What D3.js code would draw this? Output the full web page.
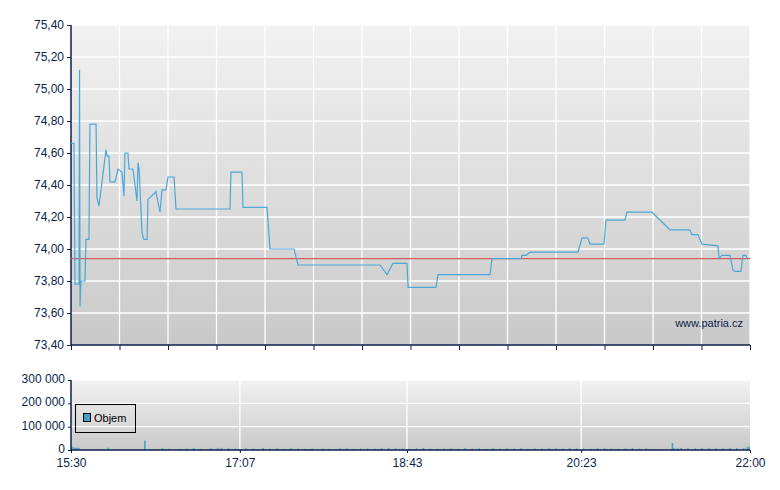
<!DOCTYPE html><html><head><meta charset="utf-8"><script src="https://cdn.jsdelivr.net/npm/d3@7"></script>
<style>body{margin:0;background:#fff}</style></head><body><svg id="c" width="780" height="490"></svg><script>
const priceT=[0,1.7,2.3,4.6,4.9,5.2,5.7,8,8.6,10.3,10.9,14.4,14.9,16.1,20.1,20.7,21.8,22.4,25.3,27,29.3,30.4,31,32.7,33.3,35.6,37.9,38.5,39.1,40.8,41.9,43.7,44.2,48.2,48.8,51.1,52.3,54.6,55.7,59.2,60.3,91.3,91.9,98.2,98.8,112.6,114.3,128.1,130.4,177.5,181.5,184.9,193,193.6,209.6,210.8,240.7,241.8,258.5,259,261.3,263.6,291.2,293.5,296.9,298.1,306.1,307.3,318.2,319.3,333.7,341.2,344,355.5,356.6,360.1,362.4,371.6,372.2,373.9,378.5,380.2,381.4,384.8,385.9,387.7,388.3];
const priceV=[74.66,74.66,73.78,73.78,75.12,73.64,73.80,73.80,74.06,74.06,74.78,74.78,74.32,74.27,74.62,74.58,74.58,74.42,74.42,74.50,74.48,74.33,74.60,74.60,74.50,74.50,74.30,74.54,74.50,74.10,74.06,74.06,74.31,74.35,74.36,74.23,74.37,74.37,74.45,74.45,74.25,74.25,74.48,74.48,74.26,74.26,74.00,74.00,73.90,73.90,73.84,73.91,73.91,73.76,73.76,73.84,73.84,73.94,73.94,73.96,73.96,73.98,73.98,74.07,74.07,74.03,74.03,74.18,74.18,74.23,74.23,74.15,74.12,74.12,74.09,74.09,74.03,74.02,73.94,73.96,73.96,73.87,73.86,73.86,73.96,73.96,73.94];
const refPrice=73.94;
const volT=[0,1,2,3,4,21,42,46,52,56,62,66,70,74,80,84,86,90,94,96,100,104,110,114,118,122,126,130,134,138,144,148,154,158,162,166,170,174,178,182,186,190,194,198,202,206,210,214,218,222,226,230,234,238,242,246,250,254,258,262,266,270,274,278,282,286,290,294,298,302,306,310,314,318,322,326,330,345,346,348,350,354,358,362,366,370,374,378,382,386,388,389];
const volV=[15000,12000,10000,10000,10000,10000,40000,3000,8000,6000,5000,6000,8000,5000,8000,9000,9000,8000,6000,5000,7000,6000,8000,6000,7000,5000,8000,6000,5000,7000,6000,5000,7000,8000,5000,6000,7000,6000,8000,9000,7000,6000,5000,7000,8000,6000,5000,6000,7000,5000,8000,6000,7000,5000,8000,6000,7000,6000,8000,5000,7000,6000,8000,7000,6000,8000,7000,6000,5000,8000,7000,6000,5000,7000,8000,6000,7000,30000,8000,7000,9000,8000,7000,8000,9000,8000,7000,9000,8000,9000,12000,15000];
const priceTicks=d3.range(73.4,75.401,0.2);
const volTicks=[0,100000,200000,300000];
const timeLabels=["15:30","17:07","18:43","20:23","22:00"];

const svg=d3.select("#c");
const L=71,R=750,T1=25,B1=345,T2=380,B2=450;
const x=d3.scaleLinear().domain([0,390]).range([L,R]);
const y=d3.scaleLinear().domain([73.4,75.4]).range([B1,T1]);
const yv=d3.scaleLinear().domain([0,300000]).range([B2,T2]);
const defs=svg.append("defs");
const g=defs.append("linearGradient").attr("id","bg").attr("x1",0).attr("y1",0).attr("x2",0).attr("y2",1);
g.append("stop").attr("offset",0).attr("stop-color","#f2f2f2");
g.append("stop").attr("offset",1).attr("stop-color","#c9c9c9");
svg.append("rect").attr("x",L).attr("y",T1).attr("width",R-L).attr("height",B1-T1).attr("fill","url(#bg)");
svg.append("rect").attr("x",L).attr("y",T2).attr("width",R-L).attr("height",B2-T2).attr("fill","url(#bg)");
const ink="#0d1f4d",font="Liberation Sans, Arial, sans-serif";
const xg=d3.range(0,15).map(i=>i*390/14);
svg.append("g").selectAll("line").data(xg.slice(1)).join("line").attr("x1",d=>x(d)).attr("x2",d=>x(d)).attr("y1",T1).attr("y2",B1).attr("stroke","#fff").attr("stroke-width",1.3);
svg.append("g").selectAll("line").data(priceTicks.slice(1)).join("line").attr("x1",L).attr("x2",R).attr("y1",d=>y(d)).attr("y2",d=>y(d)).attr("stroke","#fff").attr("stroke-width",1.3);
const ya=svg.append("g").attr("transform",`translate(${L},0)`).call(d3.axisLeft(y).tickValues(priceTicks).tickSize(4).tickFormat(d=>d3.format(".2f")(d).replace(".",",")));
const xa=svg.append("g").attr("transform",`translate(0,${B1})`).call(d3.axisBottom(x).tickValues(xg).tickSize(5).tickFormat(""));
svg.append("line").attr("x1",x(0)).attr("x2",x(390)).attr("y1",y(refPrice)).attr("y2",y(refPrice)).attr("stroke","#d65a5a").attr("stroke-width",1.2);
svg.append("path").datum(priceT.map((t,i)=>[t,priceV[i]])).attr("d",d3.line().x(d=>x(d[0])).y(d=>y(d[1]))).attr("fill","none").attr("stroke","#4aa8d6").attr("stroke-width",1.2);
svg.append("text").attr("x",743).attr("y",327).attr("text-anchor","end").attr("font-family",font).attr("font-size",11).attr("fill",ink).text("www.patria.cz");
const vx=[0,97,193,293,390];
svg.append("g").selectAll("line").data(vx.slice(1,4)).join("line").attr("x1",d=>x(d)).attr("x2",d=>x(d)).attr("y1",T2).attr("y2",B2).attr("stroke","#fff").attr("stroke-width",1.3);
svg.append("g").selectAll("line").data(volTicks.slice(1)).join("line").attr("x1",L).attr("x2",R).attr("y1",d=>yv(d)).attr("y2",d=>yv(d)).attr("stroke","#fff").attr("stroke-width",1.3);
svg.append("g").selectAll("rect").data(volT.map((t,i)=>[t,volV[i]])).join("rect").attr("x",d=>x(d[0])).attr("width",1.5).attr("y",d=>yv(d[1])).attr("height",d=>B2-yv(d[1])).attr("fill","#3fa0cc");
const yva=svg.append("g").attr("transform",`translate(${L},0)`).call(d3.axisLeft(yv).tickValues(volTicks).tickSize(3).tickFormat(d=>d3.format(",")(d).replace(/,/g," ")));
const xva=svg.append("g").attr("transform",`translate(0,${B2})`).call(d3.axisBottom(x).tickValues(vx).tickSize(3).tickPadding(5).tickFormat((d,i)=>timeLabels[i]));
[ya,xa,yva,xva].forEach(a=>{a.selectAll("path,line").attr("stroke",ink);a.select(".domain").attr("stroke-width",1.5);a.selectAll("text").attr("font-family",font).attr("font-size",12).attr("fill",ink);});
yva.selectAll("text").attr("dy","0.2em");
ya.select(".domain").attr("d",`M0,${T1}V${B1}`);yva.select(".domain").attr("d",`M0,${T2}V${B2}`);
xa.select(".domain").attr("d",`M${L},0H${R}`);xva.select(".domain").attr("d",`M${L},0H${R}`);
svg.append("rect").attr("x",75.5).attr("y",404.5).attr("width",60).attr("height",28).attr("fill","none").attr("stroke","#000");
svg.append("rect").attr("x",83.5).attr("y",413.5).attr("width",7).attr("height",8).attr("fill","#3fa0cc").attr("stroke","#000");
svg.append("text").attr("x",94).attr("y",422).attr("font-family",font).attr("font-size",11).attr("fill","#000").text("Objem");
</script></body></html>
